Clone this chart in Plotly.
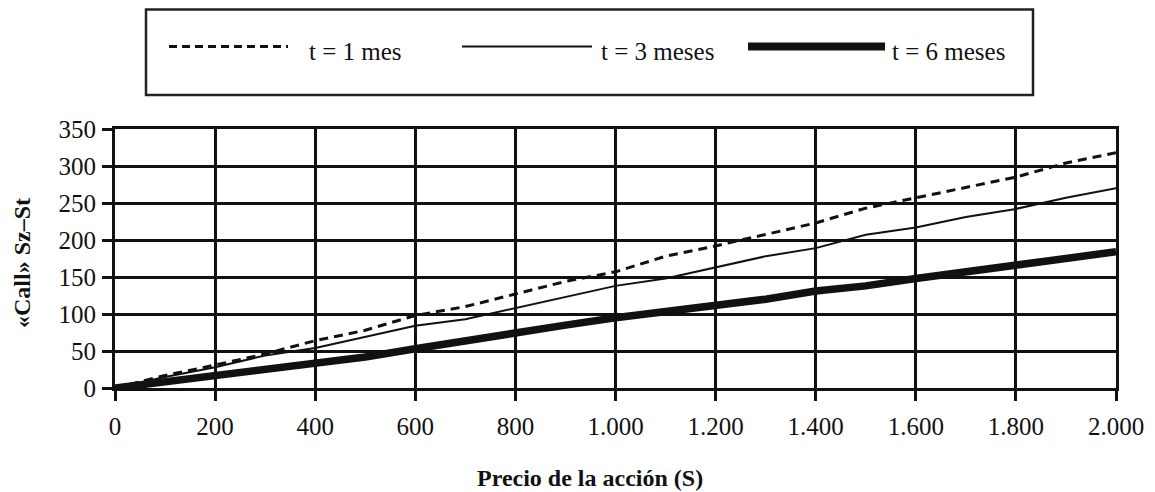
import plotly.graph_objects as go

# ---- data ----
precio = [0, 100, 200, 300, 400, 500, 600, 700, 800, 900, 1000,
          1100, 1200, 1300, 1400, 1500, 1600, 1700, 1800, 1900, 2000]
call_1mes = [0, 17, 31, 46, 64, 78, 98, 110, 127, 144, 157,
             178, 192, 207, 223, 243, 257, 272, 285, 304, 318]
call_3meses = [0, 15, 28, 44, 54, 69, 84, 93, 108, 124, 138,
               148, 163, 178, 189, 207, 217, 231, 242, 257, 270]
call_6meses = [0, 8, 18, 26, 34, 42, 53, 64, 76, 85, 95,
               103, 113, 120, 131, 138, 148, 157, 168, 175, 184]
series_names = ["t = 1 mes", "t = 3 meses", "t = 6 meses"]

x_tickvals = [0, 200, 400, 600, 800, 1000, 1200, 1400, 1600, 1800, 2000]
x_ticktext = ["0", "200", "400", "600", "800", "1.000", "1.200", "1.400",
              "1.600", "1.800", "2.000"]
y_tickvals = [0, 50, 100, 150, 200, 250, 300, 350]

# ---- styles ----
FONT = "Liberation Serif"
INK = "#111111"
styles = [
    dict(color=INK, width=3, dash="9px,6px"),
    dict(color=INK, width=2, dash="solid"),
    dict(color=INK, width=7.5, dash="solid"),
]

# page body margin offsets the figure; work in target-picture pixels
OFF = 8
W, H = 1155 - OFF, 492 - OFF
PL, PR, PT, PB = 115, 1116, 129, 388  # plot area in picture pixels
ML, MT = PL - OFF, PT - OFF
MR = W - (PR - OFF)
MB = H - (PB - OFF)
PW = PR - PL
PH = PB - PT


def px(xp):
    return (xp - PL) / PW


def py(yp):
    return (PB - yp) / PH


fig = go.Figure()
for name, vals, st in zip(series_names, [call_1mes, call_3meses, call_6meses], styles):
    fig.add_trace(go.Scatter(x=precio, y=vals, mode="lines", name=name,
                             line=st, showlegend=False))

shapes = []
annotations = []
# legend box
shapes.append(dict(type="rect", xref="paper", yref="paper",
                   x0=px(146), x1=px(1033), y0=py(95), y1=py(9.5),
                   line=dict(color="#222222", width=2.5), fillcolor="white"))
legend_items = [(169, 288, 307), (462, 592, 599), (748, 885, 890)]
legend_styles = [dict(styles[0], dash="8px,5px"), styles[1], dict(styles[2], width=8)]
for (a, b, t), name, st in zip(legend_items, series_names, legend_styles):
    shapes.append(dict(type="line", xref="paper", yref="paper",
                       x0=px(a), x1=px(b), y0=py(46.5), y1=py(46.5),
                       line=st))
    annotations.append(dict(text=name, xref="paper", yref="paper",
                            x=px(t), y=py(52), xanchor="left", yanchor="middle",
                            showarrow=False, font=dict(family=FONT, size=25, color=INK)))

# axis titles
annotations.append(dict(text="<b>Precio de la acción (S)</b>", xref="paper", yref="paper",
                        x=px(590), y=py(478), xanchor="center", yanchor="middle",
                        showarrow=False, font=dict(family=FONT, size=24, color=INK)))
annotations.append(dict(text="<b>«Call» Sz–St</b>", xref="paper", yref="paper",
                        x=px(22), y=py(263), xanchor="center", yanchor="middle",
                        textangle=-90, showarrow=False,
                        font=dict(family=FONT, size=24, color=INK)))

axis_common = dict(showgrid=True, gridcolor=INK, gridwidth=3, zeroline=False,
                   showline=True, linecolor=INK, linewidth=3, mirror=True,
                   ticks="outside", ticklen=10, tickwidth=3, tickcolor=INK,
                   tickfont=dict(family=FONT, size=25, color=INK))

fig.update_layout(
    width=W, height=H,
    margin=dict(l=ML, r=MR, t=MT, b=MB, pad=0),
    paper_bgcolor="white", plot_bgcolor="white",
    showlegend=False,
    shapes=shapes, annotations=annotations,
    xaxis=dict(range=[0, 2000], tickvals=x_tickvals, ticktext=x_ticktext,
               ticklabelstandoff=4, **axis_common),
    yaxis=dict(range=[0, 350], tickvals=y_tickvals, ticklabelstandoff=1, **axis_common),
)

fig.write_html("out.html")
